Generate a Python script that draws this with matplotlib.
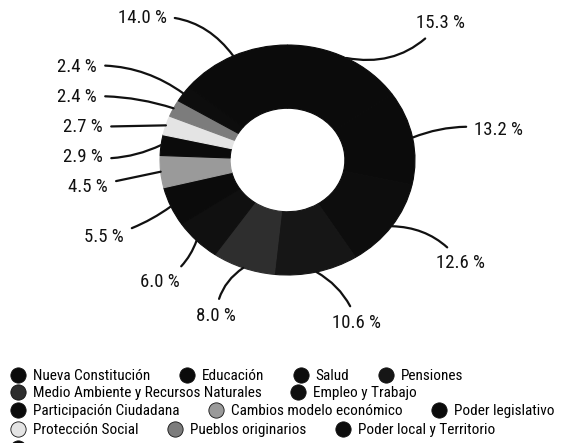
import matplotlib.pyplot as plt
from matplotlib import font_manager
from matplotlib.lines import Line2D
import numpy as np

# pick a narrow font if one is installed
names = {f.name for f in font_manager.fontManager.ttflist}
narrow = [n for n in ['Roboto Condensed', 'Liberation Sans Narrow', 'Arial Narrow'] if n in names]
plt.rcParams['font.family'] = narrow[:1] + ['Roboto', 'DejaVu Sans']
legend_size = 11 if narrow else 9
label_size = 13.5 if narrow else 11.5

categories = ['Nueva Constitución', 'Educación', 'Salud', 'Pensiones',
              'Medio Ambiente y Recursos Naturales', 'Empleo y Trabajo',
              'Participación Ciudadana', 'Cambios modelo económico',
              'Poder legislativo', 'Protección Social', 'Pueblos originarios',
              'Poder local y Territorio', 'Otros']
values = [15.3, 13.2, 12.6, 10.6, 8.0, 6.0, 5.5, 4.5, 2.9, 2.7, 2.4, 2.4, 14.0]
colors = ['#0b0b0b', '#0b0b0b', '#0d0d0d', '#161616', '#2e2e2e', '#101010',
          '#0b0b0b', '#9a9a9a', '#0b0b0b', '#e4e4e4', '#7c7c7c', '#0d0d0d',
          '#0b0b0b']

# label text centres in pixels (layout only)
label_px = [(440, 23), (499, 130), (461, 263), (357, 323), (216, 316),
            (160, 282), (104, 237), (88, 187), (83, 157), (83, 127),
            (77, 97), (77, 67), (142, 18)]
rads = [-0.3, 0.15, 0.25, 0.2, -0.25, 0.2, 0.1, 0.0, 0.15, 0.0, -0.1, -0.2, -0.3]

# the last legend row is mostly cut off by the bottom edge in the source
legend_rows = [[0, 1, 2, 3], [4, 5], [6, 7, 8], [9, 10, 11], [12]]
row_y = [376, 393, 411, 430, 449]
hidden_label = {12}

W, H = 568, 443
fig = plt.figure(figsize=(W / 100, H / 100), dpi=100)
ax = fig.add_axes([160 / W, 1 - 275 / H, 255 / W, 230 / H])

wedges, _ = ax.pie(values, colors=colors, startangle=90, counterclock=False,
                   radius=1, wedgeprops=dict(width=0.55))
for w, c in zip(wedges, colors):
    w.set_edgecolor(c)
    w.set_linewidth(0.8)
ax.set_aspect('auto')
ax.set_xlim(-1, 1)
ax.set_ylim(-1, 1)
ax.axis('off')

total = sum(values)
start = 0.0
for i, v in enumerate(values):
    mid = np.deg2rad((start + v / 2) / total * 360)
    start += v
    xy = (np.sin(mid), np.cos(mid))
    px, py = label_px[i]
    ax.annotate(f'{v:.1f} %', xy=xy, xycoords='data',
                xytext=(px / W, 1 - py / H), textcoords='figure fraction',
                ha='center', va='center', fontsize=label_size, color='#111111',
                arrowprops=dict(arrowstyle='-', color='#111111', lw=1.6,
                                shrinkA=4, shrinkB=0,
                                connectionstyle=f'arc3,rad={rads[i]}'))

for r, idx in enumerate(legend_rows):
    handles = [Line2D([], [], marker='o', linestyle='', markersize=11,
                      markerfacecolor=colors[k], markeredgecolor='#111111',
                      markeredgewidth=0.6) for k in idx]
    labels = ['' if k in hidden_label else categories[k] for k in idx]
    fig.legend(handles, labels, loc='center left',
               bbox_to_anchor=(10 / W, 1 - row_y[r] / H), ncol=len(idx),
               frameon=False, fontsize=legend_size, handlelength=1.0,
               handletextpad=0.48, columnspacing=1.9, borderpad=0,
               borderaxespad=0, labelspacing=0)

fig.savefig('out.png', dpi=100)
